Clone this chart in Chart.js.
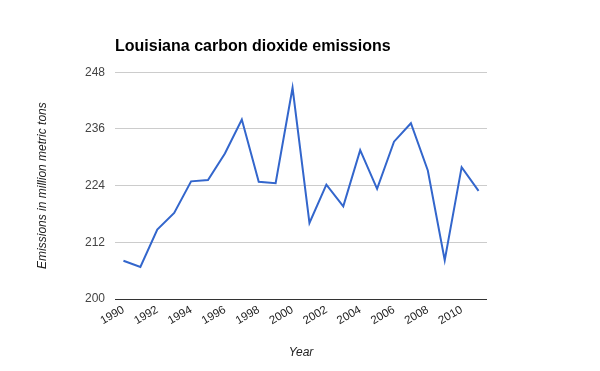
<!DOCTYPE html>
<html><head><meta charset="utf-8">
<script src="https://cdn.jsdelivr.net/npm/chart.js@4/dist/chart.umd.min.js"></script>
<style>html,body{margin:0;padding:0;background:#fff}#c{display:block}</style>
</head><body>
<canvas id="c" width="600" height="371"></canvas>
<script>
const years = [1990,1991,1992,1993,1994,1995,1996,1997,1998,1999,2000,2001,2002,2003,2004,2005,2006,2007,2008,2009,2010,2011];
const emissions = [208.1,206.8,214.7,218.2,224.9,225.2,230.8,238.0,224.8,224.5,244.7,216.1,224.2,219.6,231.5,223.3,233.3,237.2,227.2,208.2,227.9,222.9];
const yTicks = [200,212,224,236,248];
const titleText = 'Louisiana carbon dioxide emissions';
const yTitle = 'Emissions in million metric tons';
const xTitle = 'Year';

const FONT = '"Liberation Sans", Arial, sans-serif';
new Chart(document.getElementById('c'), {
  type: 'line',
  data: { labels: years.map(String), datasets: [{ data: emissions, borderColor: '#3366cc', borderWidth: 2, pointRadius: 0, tension: 0, fill: false }] },
  options: {
    responsive: false, animation: false,
    layout: { padding: { left: 0, right: 113, top: 0, bottom: 0 } },
    plugins: {
      legend: { display: false }, tooltip: { enabled: false },
      title: { display: true, text: titleText, align: 'start', fullSize: false, color: '#000',
        font: { family: FONT, size: 16, weight: 'bold' }, padding: { top: 37, bottom: 16 } }
    },
    scales: {
      x: {
        offset: true,
        grid: { display: false, drawTicks: false },
        border: { display: false },
        ticks: { autoSkip: false, maxRotation: 30, minRotation: 30, color: '#222', padding: 4,
          font: { family: FONT, size: 11.5 },
          callback: function(v, i) { return years[i] % 2 === 0 ? String(years[i]) : ''; } },
        title: { display: true, text: xTitle, color: '#222', font: { family: FONT, size: 12, style: 'italic' }, padding: { top: 4, bottom: 11 } },
        afterFit: s => { s.height = 72; }
      },
      y: {
        min: 200, max: 248,
        afterBuildTicks: s => { s.ticks = yTicks.map(v => ({ value: v })); },
        grid: { color: c => c.tick && c.tick.value === 200 ? '#333' : '#ccc', lineWidth: 1, drawTicks: false },
        border: { display: false },
        ticks: { color: '#444', padding: 10, font: { family: FONT, size: 12 } },
        title: { display: true, text: yTitle, color: '#222', font: { family: FONT, size: 12, style: 'italic' }, padding: { top: 35, bottom: 0 } },
        afterFit: s => { s.width = 115; }
      }
    }
  }
});
</script>
</body></html>
